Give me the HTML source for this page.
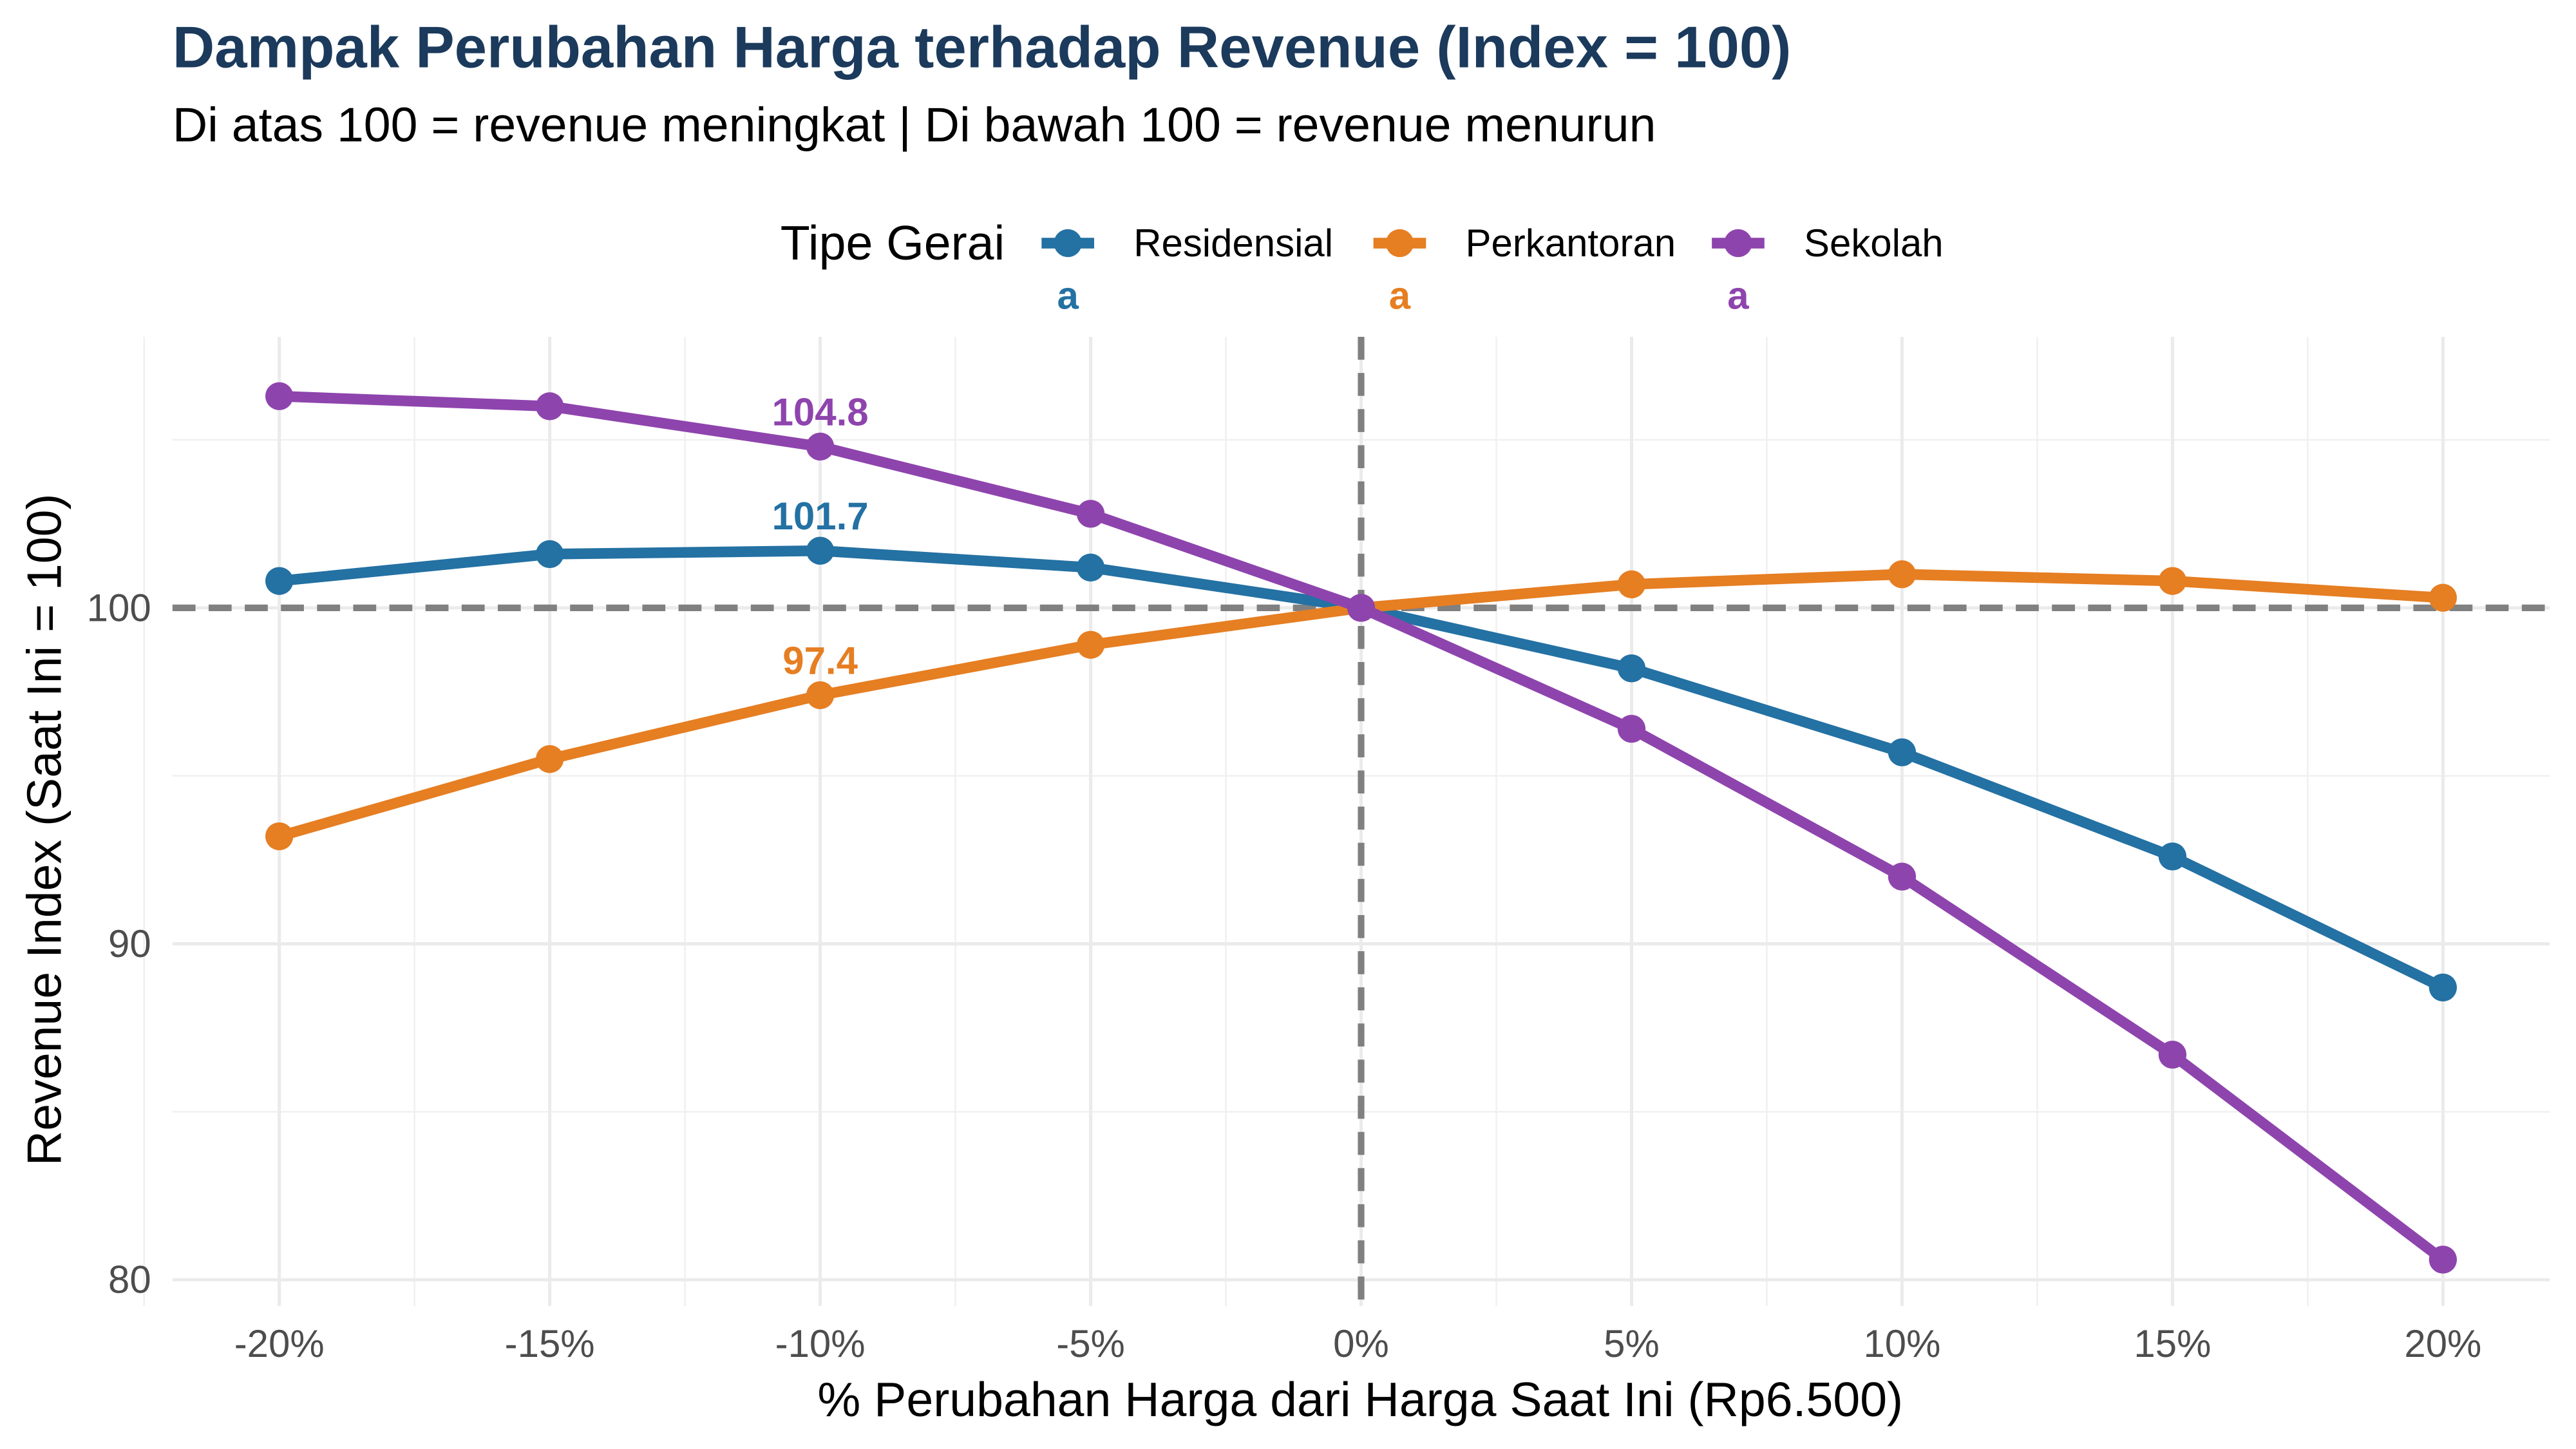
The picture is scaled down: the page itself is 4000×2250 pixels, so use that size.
<!DOCTYPE html>
<html><head><meta charset="utf-8"><style>html,body{margin:0;padding:0;background:#fff}svg{display:block}text{font-family:"Liberation Sans",sans-serif}</style></head>
<body>
<svg id="chart" width="4000" height="2250" viewBox="0 0 1568 882" xmlns="http://www.w3.org/2000/svg">
<rect width="1568" height="882" fill="#fff"/>
<text x="105" y="41" font-size="35.5" font-weight="bold" fill="#1b3a5c">Dampak Perubahan Harga terhadap Revenue (Index = 100)</text>
<text x="105" y="86" font-size="29.5" fill="#000">Di atas 100 = revenue meningkat | Di bawah 100 = revenue menurun</text>
<g id="grid"></g>
<g id="refs"></g>
<g id="series"></g>
<g id="axes"></g>
<g id="legend">
<text x="475" y="158" font-size="29.5">Tipe Gerai</text>
</g>
<text x="828" y="862" font-size="29.5" text-anchor="middle">% Perubahan Harga dari Harga Saat Ini (Rp6.500)</text>
<text transform="translate(37,505) rotate(-90)" font-size="29.5" text-anchor="middle">Revenue Index (Saat Ini = 100)</text>
</svg>
<script>
const categories = [-20,-15,-10,-5,0,5,10,15,20];
const residensial = [100.8,101.6,101.7,101.2,100,98.2,95.7,92.6,88.7];
const perkantoran = [93.2,95.5,97.4,98.9,100,100.7,101.0,100.8,100.3];
const sekolah = [106.3,106.0,104.8,102.8,100,96.4,92.0,86.7,80.6];
const seriesNames = ["Residensial","Perkantoran","Sekolah"];
const yTicks = [80,90,100];
const yMinor = [85,95,105];
const xTickLabels = ["-20%","-15%","-10%","-5%","0%","5%","10%","15%","20%"];
const labelIndex = 2;

const colors = ["#2471a3","#e67e22","#8e44ad"];
const NS="http://www.w3.org/2000/svg";
const X = v => 828.5 + v*32.925;
const Y = v => 370 - (v-100)*20.45;
const L=105, R=1552, T=205, B=795;
function mk(tag, attrs, parent){const e=document.createElementNS(NS,tag);for(const k in attrs)e.setAttribute(k,attrs[k]);parent.appendChild(e);return e;}
const grid=document.getElementById('grid'), refs=document.getElementById('refs'), ser=document.getElementById('series'), axes=document.getElementById('axes'), leg=document.getElementById('legend');

yMinor.forEach(v=>{const e=mk('line',{x1:L,x2:R,y1:Y(v),y2:Y(v),stroke:'#f0f0f0','stroke-width':1},grid);

});
categories.forEach((c,i)=>{if(i<categories.length-1){const m=(c+categories[i+1])/2;const e=mk('line',{x1:X(m),x2:X(m),y1:T,y2:B,stroke:'#f0f0f0','stroke-width':1},grid);

}});
[X(-22.5), X(22.5)].forEach(x=>{const e=mk('line',{x1:x,x2:x,y1:T,y2:B,stroke:'#f0f0f0','stroke-width':1},grid);

});
yTicks.forEach(v=>{const e=mk('line',{x1:L,x2:R,y1:Y(v),y2:Y(v),stroke:'#ebebeb','stroke-width':2},grid);


const t=mk('text',{x:92,y:Y(v)+8,'font-size':23.5,fill:'#4d4d4d','text-anchor':'end'},axes);t.textContent=v;

});
categories.forEach((c,i)=>{const e=mk('line',{x1:X(c),x2:X(c),y1:T,y2:B,stroke:'#ebebeb','stroke-width':2},grid);


const t=mk('text',{x:X(c),y:826,'font-size':23.5,fill:'#4d4d4d','text-anchor':'middle'},axes);t.textContent=xTickLabels[i];

});
let r1=mk('line',{x1:L,x2:R,y1:Y(100),y2:Y(100),stroke:'#808080','stroke-width':4,'stroke-dasharray':'14 8'},refs);


let r2=mk('line',{x1:X(0),x2:X(0),y1:T,y2:B,stroke:'#808080','stroke-width':4,'stroke-dasharray':'14 8'},refs);



[residensial,perkantoran,sekolah].forEach((d,s)=>{
  const g=mk('g',{},ser);
  
  
  const p=mk('polyline',{points:d.map((v,i)=>X(categories[i])+','+Y(v)).join(' '),fill:'none',stroke:colors[s],'stroke-width':6.5,'stroke-linejoin':'round'},g);
  
  
  d.forEach((v,i)=>{const c=mk('circle',{cx:X(categories[i]),cy:Y(v),r:8.5,fill:colors[s]},g);
    
    });
  const t=mk('text',{x:X(categories[labelIndex]),y:Y(d[labelIndex])-13,'font-size':23.5,'font-weight':'bold',fill:colors[s],'text-anchor':'middle'},g);
  t.textContent=d[labelIndex].toFixed(1);
  
  
});
const lx=[650,852,1058];
seriesNames.forEach((n,s)=>{
  const g=mk('g',{},leg);
  
  
  mk('line',{x1:lx[s]-16,x2:lx[s]+16,y1:148,y2:148,stroke:colors[s],'stroke-width':6.5},g);
  mk('circle',{cx:lx[s],cy:148,r:8.5,fill:colors[s]},g);
  const t=mk('text',{x:lx[s]+40,y:156,'font-size':23.5},g);t.textContent=n;
  const a=mk('text',{x:lx[s],y:188,'font-size':23.5,'font-weight':'bold',fill:colors[s],'text-anchor':'middle'},g);a.textContent='a';
});
</script>
</body></html>
